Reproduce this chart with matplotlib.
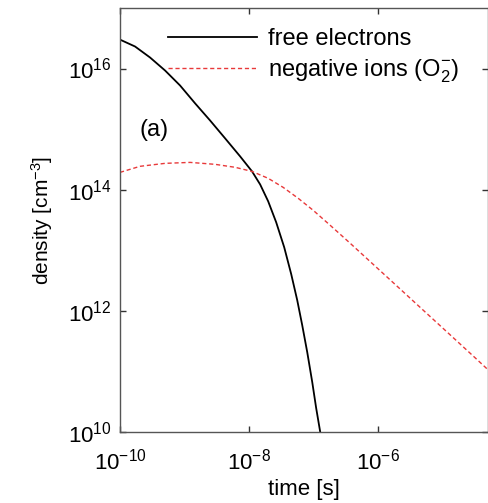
import matplotlib
matplotlib.use("Agg")
import matplotlib.pyplot as plt
import matplotlib.ticker as ticker

plt.rcParams["font.family"] = ["Liberation Sans", "DejaVu Sans"]
plt.rcParams["mathtext.fontset"] = "custom"
plt.rcParams["mathtext.rm"] = "Liberation Sans"
plt.rcParams["mathtext.it"] = "Liberation Sans:italic"
plt.rcParams["mathtext.bf"] = "Liberation Sans:bold"
plt.rcParams["axes.unicode_minus"] = False

# free electrons
t_elec = [1.0e-10, 1.71e-10, 2.92e-10, 4.99e-10, 8.51e-10, 1.46e-9, 2.48e-9, 4.25e-9,
          7.24e-9, 1.11e-8, 1.48e-8, 1.97e-8, 2.62e-8, 3.49e-8, 4.48e-8, 5.55e-8,
          6.63e-8, 7.93e-8, 9.48e-8, 1.09e-7, 1.26e-7, 1.35e-7]
n_elec = [3.0e16, 2.31e16, 1.52e16, 9.27e15, 5.25e15, 2.65e15, 1.39e15, 7.02e14,
          3.55e14, 2.0e14, 1.22e14, 6.43e13, 2.90e13, 1.12e13, 4.03e12, 1.50e12,
          5.81e11, 2.08e11, 6.67e10, 2.49e10, 1.0e10, 6.0e9]

# negative ions (O2-)
t_ion = [1.0e-10, 2.04e-10, 4.99e-10, 1.22e-9, 2.97e-9, 6.07e-9, 1.11e-8, 1.97e-8,
         3.37e-8, 5.75e-8, 9.82e-8, 1.80e-7, 3.68e-7, 8.98e-7, 2.19e-6, 5.35e-6,
         1.31e-5, 3.19e-5, 5.07e-5]
n_ion = [1.93e14, 2.43e14, 2.72e14, 2.82e14, 2.62e14, 2.34e14, 2.0e14, 1.54e14,
         1.09e14, 7.20e13, 4.56e13, 2.58e13, 1.30e13, 5.44e12, 2.28e12, 9.51e11,
         3.97e11, 1.66e11, 1.05e11]

x_ticks = [1e-10, 1e-8, 1e-6]
y_ticks = [1e10, 1e12, 1e14, 1e16]

fig = plt.figure(figsize=(4.89, 5.03), dpi=100)
ax = fig.add_axes([0.2454, 0.1412, 0.7526, 0.843])

ax.plot(t_elec, n_elec, "-", color="black", linewidth=1.3, label="free electrons")
ax.plot(t_ion, n_ion, "--", color="#e8393a", linewidth=1.0, dashes=(3, 2),
        label=r"negative ions (O$_2^{-}$)")

ax.set_xscale("log")
ax.set_yscale("log")
ax.set_xlim(1e-10, 5e-5)
ax.set_ylim(1e10, 1e17)
ax.set_xticks(x_ticks)
ax.set_yticks(y_ticks)
ax.xaxis.set_minor_locator(ticker.NullLocator())
ax.yaxis.set_minor_locator(ticker.NullLocator())
ax.tick_params(direction="in", length=4, width=1, labelsize=16,
               top=True, right=True, color="#333333")
ax.tick_params(axis="x", pad=12)
ax.tick_params(axis="y", pad=6)

for s in ax.spines.values():
    s.set_color("#555555")
    s.set_linewidth(1.0)

ax.set_xlabel("time [s]", fontsize=16, labelpad=3)
ax.set_ylabel(r"density [cm$^{-3}$]", fontsize=15, labelpad=9)

ax.text(0.054, 0.712, "(a)", transform=ax.transAxes, fontsize=17, va="center")

ax.legend(loc="upper right", bbox_to_anchor=(0.96, 0.985), frameon=False, fontsize=17,
          handlelength=3.8, handletextpad=0.45, labelspacing=0.3, borderaxespad=0.2)

fig.savefig("out.png", dpi=100)
